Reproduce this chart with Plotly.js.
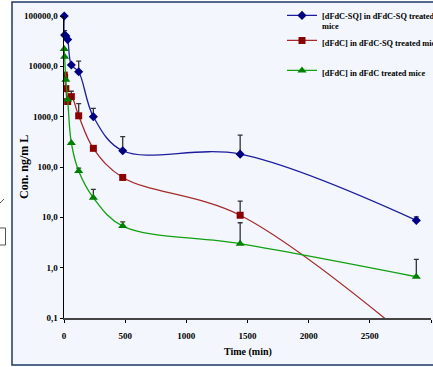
<!DOCTYPE html>
<html>
<head>
<meta charset="utf-8">
<script src="https://cdn.plot.ly/plotly-3.0.1.min.js"></script>
<style>html,body{margin:0;padding:0;background:#fff;}#chart{width:433px;height:367px;}</style>
</head>
<body>
<div id="chart"></div>
<script>
// ---- data ----
const timeMin = [2, 5, 15, 30, 60, 120, 240, 480, 1440, 2880];
const sqInSq = [100000, 42000, 40000, 34000, 10600, 7800, 1000, 210, 180, 8.7];
const sqInSqErr = [18000, 9000, 0, 0, 0, 4900, 460, 190, 250, 1.5];
const dfdcInSq = [6700, 6000, 3600, 2000, 2500, 1040, 235, 62, 11, 0.03];
const dfdcInSqErr = [0, 0, 0, 0, 700, 770, 0, 0, 10, 0];
const dfdcInDfdc = [22000, 15500, 5400, 2200, 300, 83, 24.5, 6.7, 3.0, 0.66];
const dfdcInDfdcErr = [0, 0, 0, 0, 0, 12, 11.5, 1.4, 4.8, 0.8];
const seriesNames = ['[dFdC-SQ] in dFdC-SQ treated<br>mice', '[dFdC] in dFdC-SQ treated mice', '[dFdC] in dFdC treated mice'];
const yTickVals = [0.1, 1, 10, 100, 1000, 10000, 100000];
const yTickText = ['0,1', '1,0', '10,0', '100,0', '1000,0', '10000,0', '100000,0'];
const xTickVals = [0, 500, 1000, 1500, 2000, 2500, 3000];
const xTitle = 'Time (min)';
const yTitle = 'Con. ng/m L';

const zeros = timeMin.map(() => 0);
function errY(arr) {
  return {type: 'data', symmetric: false, array: arr, arrayminus: zeros, color: '#333333', thickness: 1.3, width: 2.5};
}
const FONT = 'Liberation Serif, Times New Roman, serif';

const traces = [
  {x: timeMin, y: sqInSq, name: seriesNames[0], mode: 'lines+markers', line: {shape: 'spline', color: '#1c1c9c', width: 1.3},
   marker: {symbol: 'diamond', size: 7, color: '#000080'}, error_y: errY(sqInSqErr), legend: 'legend', cliponaxis: false},
  {x: timeMin, y: dfdcInSq, name: seriesNames[1], mode: 'lines+markers', line: {shape: 'spline', color: '#a52a2a', width: 1.3},
   marker: {symbol: 'square', size: 7, color: '#8b0000'}, error_y: errY(dfdcInSqErr), legend: 'legend2'},
  {x: timeMin, y: dfdcInDfdc, name: seriesNames[2], mode: 'lines+markers', line: {shape: 'spline', color: '#10a010', width: 1.3},
   marker: {symbol: 'triangle-up', size: 8, color: '#008000'}, error_y: errY(dfdcInDfdcErr), legend: 'legend3', cliponaxis: false}
];

// plot area: x 64..431 px, y 16..318 px
const L = 64, R = 431, T = 16, B = 318;
const px = v => (v - L) / (R - L);
const py = v => (B - v) / (B - T);

const legBase = {bgcolor: 'rgba(0,0,0,0)', borderwidth: 0, font: {family: FONT, size: 8.3, weight: 'bold', color: '#000'},
  xanchor: 'left', yanchor: 'middle', itemwidth: 30, valign: 'top'};

const layout = {
  width: 433, height: 367,
  margin: {l: L, r: 433 - R, t: T, b: 367 - B, pad: 0, autoexpand: false},
  paper_bgcolor: '#ffffff', plot_bgcolor: 'rgba(0,0,0,0)',
  font: {family: FONT, size: 9, weight: 'bold', color: '#000'},
  xaxis: {range: [0, 3000], tickvals: xTickVals, ticks: 'outside', ticklen: 3, tickcolor: '#000', showline: true, linecolor: '#444', linewidth: 1.5,
    showgrid: false, zeroline: false, tickfont: {family: FONT, size: 9, weight: 'bold'}, automargin: false, ticklabelstandoff: 6},
  yaxis: {type: 'log', range: [-1, 5], tickvals: yTickVals, ticktext: yTickText, ticks: 'outside', ticklen: 3, tickcolor: '#000',
    showline: true, linecolor: '#000', linewidth: 1.5, showgrid: false, zeroline: false, tickfont: {family: FONT, size: 9, weight: 'bold'}, automargin: false},
  showlegend: true,
  legend: Object.assign({}, legBase, {x: px(282), y: py(21) }),
  legend2: Object.assign({}, legBase, {x: px(282), y: py(43) }),
  legend3: Object.assign({}, legBase, {x: px(282), y: py(73) }),
  shapes: [
    {type: 'rect', xref: 'paper', yref: 'paper', x0: px(12), x1: px(445), y0: py(365), y1: py(2), layer: 'below',
     fillcolor: '#f3f7fd', line: {color: '#1f3864', width: 1.5}},
    {type: 'line', xref: 'paper', yref: 'paper', x0: px(0), x1: px(4), y0: py(203), y1: py(199), line: {color: '#555', width: 1}},
    {type: 'rect', xref: 'paper', yref: 'paper', x0: px(-2), x1: px(5.5), y0: py(245), y1: py(228), line: {color: '#555', width: 1}}
  ],
  annotations: [
    {text: yTitle, xref: 'paper', yref: 'paper', x: px(24), y: 0.5, textangle: -90, showarrow: false, xanchor: 'center', yanchor: 'middle',
     font: {family: FONT, size: 12, weight: 'bold'}},
    {text: xTitle, xref: 'paper', yref: 'paper', x: 0.5, y: py(352), showarrow: false, xanchor: 'center', yanchor: 'middle',
     font: {family: FONT, size: 10, weight: 'bold'}}
  ]
};

Plotly.newPlot('chart', traces, layout, {displayModeBar: false, staticPlot: true});
</script>
</body>
</html>
